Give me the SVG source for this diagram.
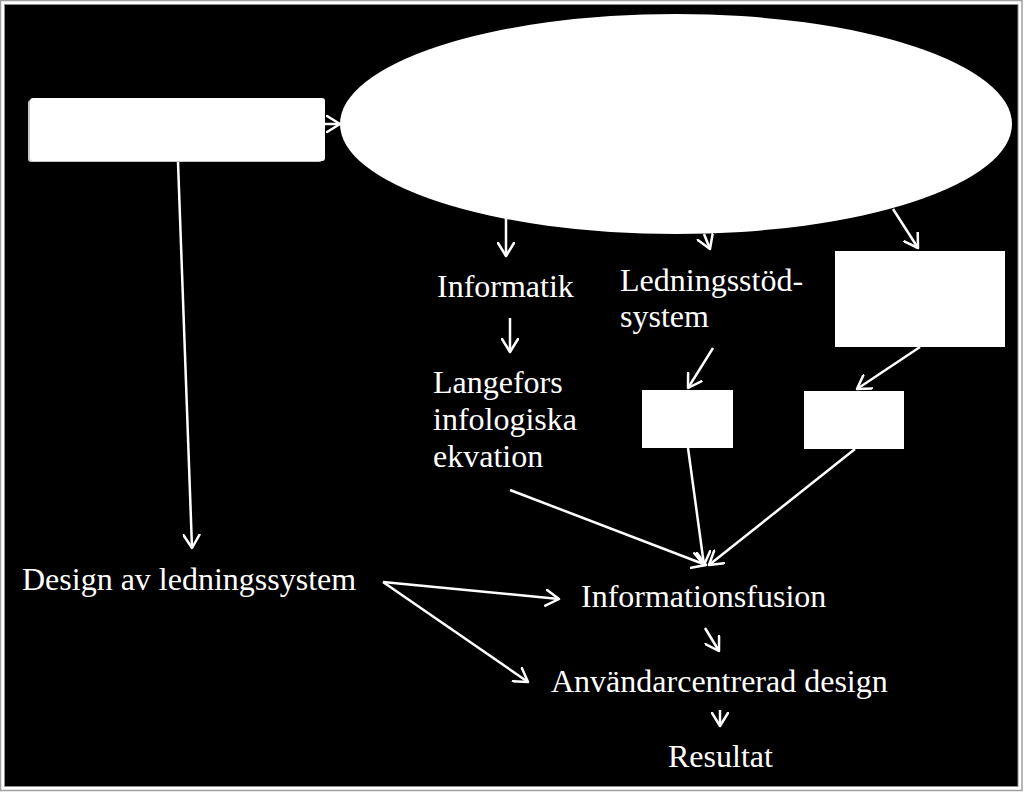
<svg xmlns="http://www.w3.org/2000/svg" width="1024" height="793" viewBox="0 0 1024 793">
  <style>
    .lbl { font-family: "Liberation Serif", "Times New Roman", serif; font-size: 32px; fill: #ffffff; }
    .conn { stroke: #ffffff; stroke-width: 2.5; fill: none; marker-end: url(#arr); }
    .box { fill: #ffffff; }
  </style>
  <defs>
    <marker id="arr" viewBox="0 0 16 18" refX="14" refY="9" markerWidth="16" markerHeight="18" markerUnits="userSpaceOnUse" orient="auto">
      <path d="M1,1 L14,9 L1,17" fill="none" stroke="#ffffff" stroke-width="2.5" stroke-linecap="round" stroke-linejoin="round"/>
    </marker>
  </defs>
  <rect x="0" y="0" width="1024" height="793" fill="#ffffff"/>
  <rect x="0.5" y="0.5" width="1021.5" height="790" fill="none" stroke="#a0a0a0" stroke-width="1.5"/>
  <rect x="4.5" y="4.5" width="1013.5" height="782" fill="#000000" stroke="#909090" stroke-width="1"/>

  <g id="connectors">
    <line class="conn" x1="324" y1="124" x2="340" y2="124"/>
    <line class="conn" x1="178" y1="162" x2="192" y2="548"/>
    <line class="conn" x1="506" y1="218" x2="506" y2="256"/>
    <line class="conn" x1="704" y1="234" x2="710" y2="249"/>
    <line class="conn" x1="893" y1="209" x2="918" y2="248"/>
    <line class="conn" x1="510" y1="318" x2="510" y2="352"/>
    <line class="conn" x1="713" y1="348" x2="688" y2="388"/>
    <line class="conn" x1="920" y1="347" x2="857" y2="389"/>
    <line class="conn" x1="688" y1="448" x2="704" y2="565"/>
    <line class="conn" x1="855" y1="449" x2="709" y2="565"/>
    <line class="conn" x1="510" y1="490" x2="706" y2="565"/>
    <line class="conn" x1="383" y1="582" x2="559" y2="599"/>
    <line class="conn" x1="383" y1="582" x2="528" y2="682"/>
    <line class="conn" x1="705" y1="628" x2="719" y2="651"/>
    <line class="conn" x1="720" y1="710" x2="720" y2="726"/>
  </g>

  <g id="source-box">
    <rect x="28" y="100" width="294" height="62" rx="3" fill="#c8c8c8"/>
    <rect class="box" x="30" y="98" width="295" height="63" rx="3"/>
  </g>
  <g id="main-ellipse">
    <ellipse cx="676" cy="124" rx="336" ry="110" fill="#ffffff"/>
  </g>
  <g id="right-box">
    <rect class="box" x="835" y="251" width="170" height="96"/>
  </g>
  <g id="small-box-1">
    <rect class="box" x="642" y="390" width="91" height="58"/>
  </g>
  <g id="small-box-2">
    <rect class="box" x="804" y="391" width="100" height="58"/>
  </g>

  <g id="informatik">
    <text class="lbl" x="437" y="297">Informatik</text>
  </g>
  <g id="ledningsstod">
    <text class="lbl" x="620" y="291">Ledningsstöd-</text>
    <text class="lbl" x="620" y="327">system</text>
  </g>
  <g id="langefors">
    <text class="lbl" x="433" y="393">Langefors</text>
    <text class="lbl" x="433" y="430">infologiska</text>
    <text class="lbl" x="433" y="467">ekvation</text>
  </g>
  <g id="design">
    <text class="lbl" x="22" y="590">Design av ledningssystem</text>
  </g>
  <g id="informationsfusion">
    <text class="lbl" x="581" y="607">Informationsfusion</text>
  </g>
  <g id="anvandarcentrerad">
    <text class="lbl" x="551" y="692">Användarcentrerad design</text>
  </g>
  <g id="resultat">
    <text class="lbl" x="668" y="767">Resultat</text>
  </g>
</svg>
